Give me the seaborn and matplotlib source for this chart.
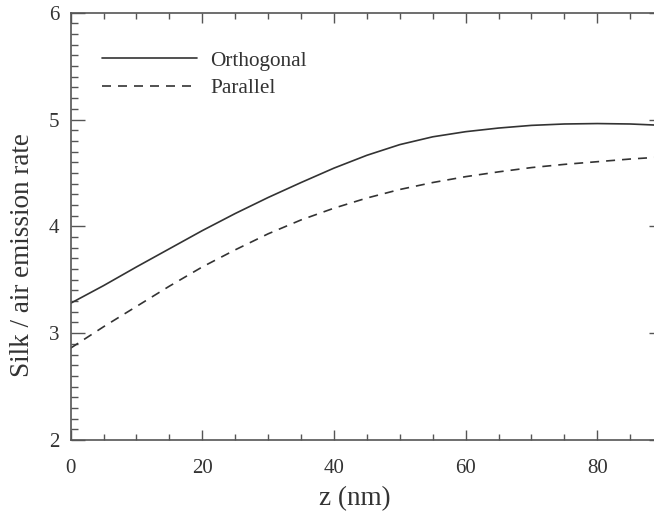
import numpy as np
import pandas as pd
import matplotlib
matplotlib.use("Agg")
import matplotlib.pyplot as plt
from matplotlib.ticker import MultipleLocator
import seaborn as sns

# values
z_nm = [0, 5, 10, 15, 20, 25, 30, 35, 40, 45, 50, 55, 60, 65, 70, 75, 80, 85, 90]
orthogonal = [3.28, 3.445, 3.62, 3.79, 3.96, 4.12, 4.27, 4.41, 4.545, 4.665, 4.765,
              4.838, 4.886, 4.92, 4.945, 4.958, 4.962, 4.958, 4.945]
parallel = [2.86, 3.06, 3.25, 3.44, 3.62, 3.78, 3.93, 4.06, 4.17, 4.265, 4.345,
            4.41, 4.465, 4.51, 4.55, 4.58, 4.605, 4.63, 4.65]
series_names = ["Orthogonal", "Parallel"]

df = pd.DataFrame({
    "z": z_nm * 2,
    "rate": orthogonal + parallel,
    "series": [series_names[0]] * len(z_nm) + [series_names[1]] * len(z_nm),
})

sns.set_style("ticks")
plt.rcParams["font.family"] = ["Liberation Serif", "DejaVu Serif"]

fig = plt.figure(figsize=(6.54, 5.13), dpi=100)
ax = fig.add_axes([0.108, 0.1423, 0.906, 0.833])

sns.lineplot(data=df, x="z", y="rate", hue="series", style="series",
             palette=["#333333", "#333333"],
             dashes={"Orthogonal": "", "Parallel": (5.4, 4.2)},
             linewidth=1.2, ax=ax, legend=True)

ax.set_xlim(0, 90)
ax.set_ylim(2, 6)
ax.xaxis.set_major_locator(MultipleLocator(20))
ax.xaxis.set_minor_locator(MultipleLocator(5))
ax.yaxis.set_major_locator(MultipleLocator(1))
ax.yaxis.set_minor_locator(MultipleLocator(0.1))
ax.tick_params(which="both", direction="in", top=True, right=True,
               colors="#555555", labelcolor="#333333", labelsize=15, width=1)
ax.tick_params(axis="x", which="major", length=7, pad=14)
ax.tick_params(axis="x", which="minor", length=4)
ax.tick_params(axis="y", which="major", length=10, pad=8)
ax.tick_params(axis="y", which="minor", length=5)
for s in ax.spines.values():
    s.set_color("#555555")
    s.set_linewidth(1.2)

ax.set_xlabel("z (nm)", fontsize=19.5, color="#333333")
ax.set_ylabel("Silk / air emission rate", fontsize=19.5, color="#333333")
ax.xaxis.set_label_coords(0.48, -0.108)
ax.yaxis.set_label_coords(-0.060, 0.432)

ax.legend(loc="upper left", bbox_to_anchor=(0.020, 0.955), frameon=False,
          fontsize=15.3, handlelength=4.5, handletextpad=0.63, labelspacing=0.36,
          labelcolor="#333333")

fig.savefig("out.png", dpi=100)
